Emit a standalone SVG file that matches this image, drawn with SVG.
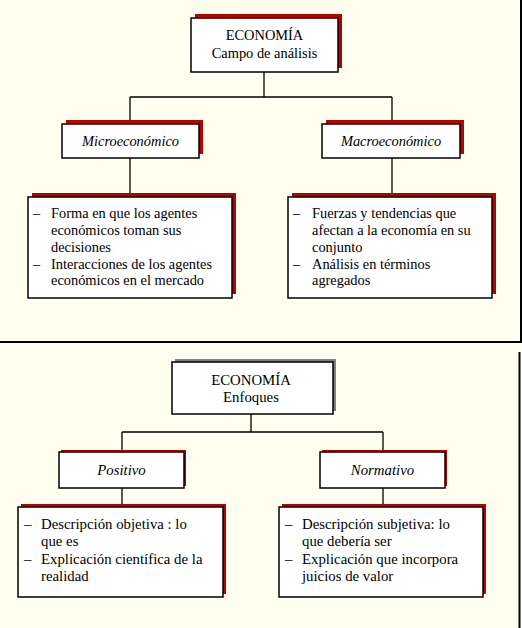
<svg xmlns="http://www.w3.org/2000/svg" width="522" height="628" viewBox="0 0 522 628">
<style>
.bg{fill:#FFFFF0}
.box{fill:#FFFFFF;stroke:#000;stroke-width:1.5}
.sh{fill:#B80000}
.shg{fill:#808080}
text{font-family:'Liberation Serif','Times New Roman',Times,serif;font-size:14.4px;fill:#000}
.b text{font-size:14.8px}
.c{text-anchor:middle}
.i{font-style:italic}
.ln{stroke:#000;stroke-width:1.3;fill:none}
.frame{stroke:#000;stroke-width:2;fill:none}
</style>
<rect class="bg" x="0" y="0" width="522" height="628"/>
<g id="frame">
<line class="frame" x1="521" y1="0" x2="521" y2="343"/>
<line class="frame" x1="0" y1="342" x2="521" y2="342"/>
<line class="frame" x1="519.5" y1="352" x2="519.5" y2="628"/>
</g>
<g id="connectors">
<path class="ln" d="M264,72 V97 M130,97 H392 M130,97 V124 M392,97 V124 M130,158 V197 M392,158 V197"/>
<path class="ln" d="M251,414 V432 M122,432 H383 M122,432 V452 M383,432 V452 M122,488 V507 M383,488 V507"/>
</g>
<g id="economia1">
<rect class="sh" x="195" y="14" width="147" height="54"/>
<rect class="box" x="191" y="18" width="147" height="54"/>
<text class="c" x="264.5" y="40">ECONOMÍA</text>
<text class="c" x="264.5" y="58">Campo de análisis</text>
</g>
<g id="micro">
<rect class="sh" x="66" y="120" width="137" height="34"/>
<rect class="box" x="62" y="124" width="137" height="34"/>
<text class="c i" x="130.5" y="146">Microeconómico</text>
</g>
<g id="macro">
<rect class="sh" x="326" y="120" width="138" height="34"/>
<rect class="box" x="322" y="124" width="138" height="34"/>
<text class="c i" x="391" y="146">Macroeconómico</text>
</g>
<g id="micro-desc">
<rect class="sh" x="32" y="193" width="204" height="101"/>
<rect class="box" x="28" y="197" width="204" height="101"/>
<text x="33" y="218">–</text>
<text x="51" y="218">Forma en que los agentes</text>
<text x="51" y="235">económicos toman sus</text>
<text x="51" y="252">decisiones</text>
<text x="33" y="269">–</text>
<text x="51" y="269">Interacciones de los agentes</text>
<text x="51" y="285">económicos en el mercado</text>
</g>
<g id="macro-desc">
<rect class="sh" x="292" y="193" width="204" height="101"/>
<rect class="box" x="288" y="197" width="204" height="101"/>
<text x="293" y="218">–</text>
<text x="312" y="218">Fuerzas y tendencias que</text>
<text x="312" y="235">afectan a la economía en su</text>
<text x="312" y="252">conjunto</text>
<text x="293" y="269">–</text>
<text x="312" y="269">Análisis en términos</text>
<text x="312" y="285">agregados</text>
</g>
<g class="b">
<g id="economia2">
<rect class="shg" x="175" y="359" width="161" height="52"/>
<rect class="box" x="172" y="362" width="161" height="52"/>
<text class="c" x="251" y="385">ECONOMÍA</text>
<text class="c" x="251" y="402">Enfoques</text>
</g>
<g id="positivo">
<rect class="sh" x="61" y="450" width="125" height="36"/>
<rect class="box" x="59" y="452" width="125" height="36"/>
<text class="c i" x="121.5" y="475">Positivo</text>
</g>
<g id="normativo">
<rect class="sh" x="322" y="450" width="125" height="36"/>
<rect class="box" x="320" y="452" width="125" height="36"/>
<text class="c i" x="382.5" y="475">Normativo</text>
</g>
<g id="positivo-desc">
<rect class="sh" x="21" y="504" width="205" height="90"/>
<rect class="box" x="18" y="507" width="205" height="90"/>
<text x="24" y="529">–</text>
<text x="41" y="529">Descripción objetiva : lo</text>
<text x="41" y="546">que es</text>
<text x="24" y="564">–</text>
<text x="41" y="564">Explicación científica de la</text>
<text x="41" y="581">realidad</text>
</g>
<g id="normativo-desc">
<rect class="sh" x="282" y="504" width="204" height="90"/>
<rect class="box" x="279" y="507" width="204" height="90"/>
<text x="285" y="529">–</text>
<text x="302" y="529">Descripción subjetiva: lo</text>
<text x="302" y="546">que debería ser</text>
<text x="285" y="564">–</text>
<text x="302" y="564">Explicación que incorpora</text>
<text x="302" y="581">juicios de valor</text>
</g>
</g>
</svg>
